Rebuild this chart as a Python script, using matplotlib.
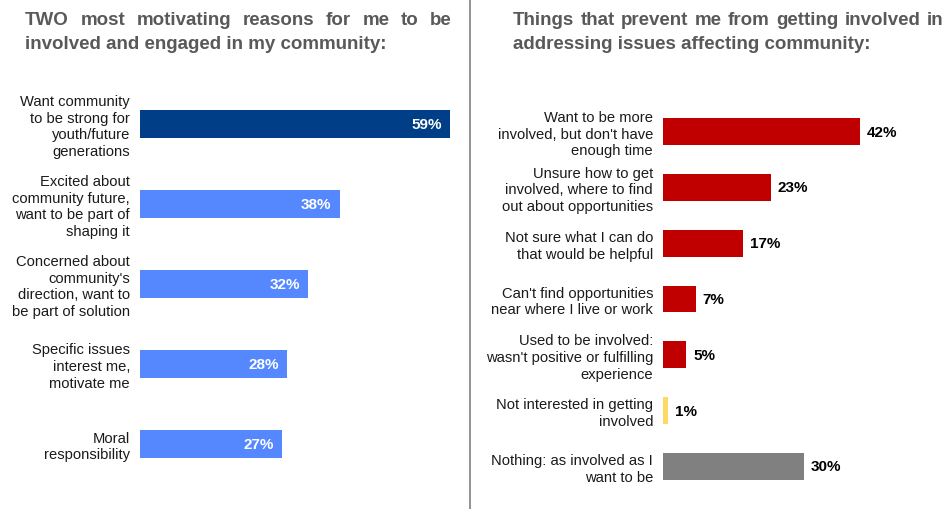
import matplotlib.pyplot as plt
from matplotlib.lines import Line2D

plt.rcParams["font.family"] = ["Liberation Sans", "DejaVu Sans"]

FIG_W, FIG_H = 948, 510
DPI = 100

# left chart: motivating reasons
left_labels = [
    "Want community\nto be strong for\nyouth/future\ngenerations",
    "Excited about\ncommunity future,\nwant to be part of\nshaping it",
    "Concerned about\ncommunity's\ndirection, want to\nbe part of solution",
    "Specific issues\ninterest me,\nmotivate me",
    "Moral\nresponsibility",
]
left_values = [59, 38, 32, 28, 27]
left_colors = ["#003f87", "#5588ff", "#5588ff", "#5588ff", "#5588ff"]

# right chart: barriers
right_labels = [
    "Want to be more\ninvolved, but don't have\nenough time",
    "Unsure how to get\ninvolved, where to find\nout about opportunities",
    "Not sure what I can do\nthat would be helpful",
    "Can't find opportunities\nnear where I live or work",
    "Used to be involved:\nwasn't positive or fulfilling\nexperience",
    "Not interested in getting\ninvolved",
    "Nothing: as involved as I\nwant to be",
]
right_values = [42, 23, 17, 7, 5, 1, 30]
right_colors = ["#c00000", "#c00000", "#c00000", "#c00000", "#c00000", "#ffd966", "#808080"]

left_title = ["TWO most motivating reasons for me to be",
              "involved and engaged in my community:"]
right_title = ["Things that prevent me from getting involved in",
               "addressing issues affecting community:"]

TITLE_COLOR = "#595959"
LABEL_COLOR = "#1a1a1a"


def px_axes(fig, left, top, width, height):
    return fig.add_axes([left / FIG_W, 1 - (top + height) / FIG_H, width / FIG_W, height / FIG_H])


def style_axes(ax, labels):
    ax.set_yticks([])
    ax.set_xticks([])
    for s in ax.spines.values():
        s.set_visible(False)
    ax.invert_yaxis()
    # category labels, right aligned line by line
    trans = ax.get_yaxis_transform()
    for i, lab in enumerate(labels):
        ax.annotate(lab, (0, i), xycoords=trans, xytext=(-7.2, -1.5), textcoords="offset points",
                    ha="right", va="center", multialignment="right",
                    fontsize=10.6, linespacing=1.24, color=LABEL_COLOR)


def justified_title(fig, lines, x0, x1, y_first, line_gap):
    renderer = fig.canvas.get_renderer()
    kw = dict(fontsize=13.5, weight="bold", color=TITLE_COLOR, va="baseline", ha="left")
    # first line is stretched to the full width, last line stays ragged
    words = lines[0].split()
    y = 1 - y_first / FIG_H
    texts = [fig.text(0, y, w, **kw) for w in words]
    widths = [t.get_window_extent(renderer).width for t in texts]
    gap = (x1 - x0 - sum(widths)) / (len(words) - 1)
    x = x0
    for t, w in zip(texts, widths):
        t.set_x(x / FIG_W)
        x += w + gap
    fig.text(x0 / FIG_W, 1 - (y_first + line_gap) / FIG_H, lines[1], **kw)


fig = plt.figure(figsize=(FIG_W / DPI, FIG_H / DPI), dpi=DPI)

# left panel
ax1 = px_axes(fig, 140, 85, 5.254 * 60, 400)
ax1.barh(range(len(left_values)), left_values, height=0.36, color=left_colors)
ax1.set_xlim(0, 60)
ax1.set_ylim(-0.5, len(left_values) - 0.5)
style_axes(ax1, left_labels)
for i, v in enumerate(left_values):
    ax1.annotate(f"{v}%", (v, i), xytext=(-6, 0), textcoords="offset points",
                 ha="right", va="center", fontsize=11, weight="bold", color="white")

# right panel
ax2 = px_axes(fig, 663, 104.6, 4.69 * 50, 390.8)
ax2.barh(range(len(right_values)), right_values, height=0.48, color=right_colors)
ax2.set_xlim(0, 50)
ax2.set_ylim(-0.5, len(right_values) - 0.5)
style_axes(ax2, right_labels)
for i, v in enumerate(right_values):
    ax2.annotate(f"{v}%", (v, i), xytext=(5, 0), textcoords="offset points",
                 ha="left", va="center", fontsize=11, weight="bold", color="black")

# divider between the two panels
fig.add_artist(Line2D([470 / FIG_W, 470 / FIG_W], [0, 1], color="#7f7f7f", linewidth=1.2))

justified_title(fig, left_title, 25, 452, 25, 24)
justified_title(fig, right_title, 513, 943, 25, 24)

fig.savefig("out.png", dpi=DPI)
